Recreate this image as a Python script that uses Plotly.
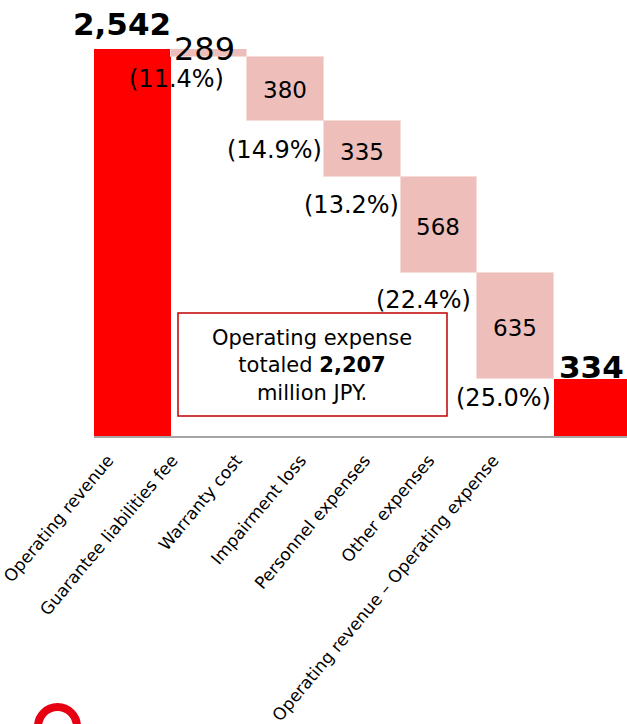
import plotly.graph_objects as go

# ---- data ----
categories = ["Operating revenue", "Guarantee liabilities fee", "Warranty cost",
              "Impairment loss", "Personnel expenses", "Other expenses",
              "Operating revenue – Operating expense"]
revenue = 2542
# bar heights as drawn in the picture (million JPY scale of the chart)
drawn_steps = [55, 418, 366, 631, 696]
# printed value labels
revenue_label = "2,542"
step_labels = ["289", "380", "335", "568", "635"]
share_labels = ["(11.4%)", "(14.9%)", "(13.2%)", "(22.4%)", "(25.0%)"]
result_label = "334"
box_lines = ["Operating expense", "totaled <b>2,207</b>", "million JPY."]

measures = ["absolute"] + ["relative"] * len(drawn_steps) + ["total"]
yvals = [revenue] + [-v for v in drawn_steps] + [0]

W, H = 627, 724
L, R_EDGE = 94, 627
TOP, BASE = 49, 436
FONT = "DejaVu Sans"

fig = go.Figure()
fig.add_trace(go.Waterfall(
    x=categories, y=yvals, measure=measures,
    totals=dict(marker=dict(color="#FF0000", line=dict(width=0))),
    decreasing=dict(marker=dict(color="#EEBFBA", line=dict(color="#F6DCD9", width=1))),
    increasing=dict(marker=dict(color="#EEBFBA")),
    connector=dict(visible=False),
    hoverinfo="skip", showlegend=False,
))
# invisible trace carrying category labels on a second x axis
fig.add_trace(go.Scatter(
    x=categories, y=[0] * len(categories), xaxis="x2", yaxis="y",
    mode="markers", marker=dict(opacity=0), hoverinfo="skip", showlegend=False,
))

def px(x):
    return (x - L) / (R_EDGE - L)

def py(y):
    return (BASE - y) / (BASE - TOP)

ann = []
def add(text, x, y, size, xanchor="center", bold=False):
    ann.append(dict(text=f"<b>{text}</b>" if bold else text, x=px(x), y=py(y),
                    xref="paper", yref="paper", xanchor=xanchor, yanchor="middle",
                    showarrow=False, font=dict(family=FONT, size=size, color="black")))

add(revenue_label, 122, 24, 31, bold=True)
step_pos = [(204, 49, 32), (285, 90, 23), (362, 152, 23), (438, 227, 23), (515, 328, 23)]
for lab, (x, y, s) in zip(step_labels, step_pos):
    add(lab, x, y, s)
share_pos = [(176, 79), (274, 150), (351, 205), (423, 300), (503, 398)]
for lab, (x, y) in zip(share_labels, share_pos):
    add(lab, x, y, 24)
add(result_label, 626, 367, 31, xanchor="right", bold=True)
add("<br>".join(box_lines), 312, 365, 21)

shapes = [
    dict(type="rect", xref="paper", yref="paper", x0=px(178), x1=px(447),
         y0=py(416), y1=py(313), line=dict(color="#C00000", width=1.5),
         fillcolor="rgba(0,0,0,0)", layer="below"),
    dict(type="circle", xref="paper", yref="paper", x0=px(38), x1=px(77),
         y0=py(746), y1=py(707), line=dict(color="#E60012", width=8)),
]

fig.update_layout(
    width=W, height=H,
    margin=dict(l=L, r=W - R_EDGE, t=TOP, b=H - BASE, pad=0, autoexpand=False),
    paper_bgcolor="white", plot_bgcolor="white",
    waterfallgap=0,
    showlegend=False,
    font=dict(family=FONT, color="black"),
    xaxis=dict(type="category", range=[-0.5, 6.45], showticklabels=False,
               showline=True, linecolor="#A6A6A6", linewidth=1.5, automargin=False,
               showgrid=False, zeroline=False, ticks=""),
    xaxis2=dict(type="category", anchor="y", overlaying="x", side="bottom",
                range=[-0.218, 8.084], showgrid=False, zeroline=False,
                showline=False, ticks="", tickangle=-50, automargin=False,
                tickfont=dict(family=FONT, size=17, color="black"),
                ticklabelstandoff=10),
    yaxis=dict(range=[0, revenue], visible=False, showgrid=False, zeroline=False,
               automargin=False),
    annotations=ann, shapes=shapes,
)

fig.write_html("out.html")
